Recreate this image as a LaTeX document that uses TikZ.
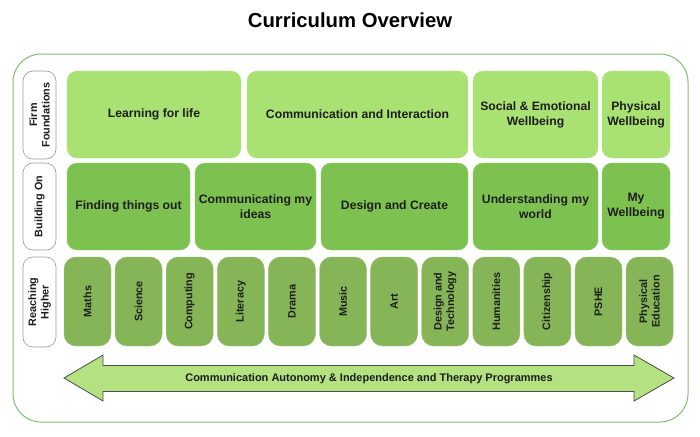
\documentclass[tikz,border=0pt]{standalone}
\usepackage{fontspec}
\setmainfont{Liberation Sans}
\definecolor{rowA}{RGB}{169,225,114}
\definecolor{rowB}{RGB}{125,194,80}
\definecolor{rowC}{RGB}{134,181,88}
\definecolor{arrowfill}{RGB}{180,226,128}
\definecolor{frameg}{RGB}{128,190,110}
\definecolor{txt}{RGB}{30,30,30}
\tikzset{
  boxbase/.style={rectangle, rounded corners=10pt, inner sep=2pt, align=center, text=txt, font=\bfseries\fontsize{12.2}{15}\selectfont},
  boxa/.style={boxbase, fill=rowA, draw=rowA!85!white, minimum height=87pt},
  boxb/.style={boxbase, fill=rowB, draw=rowB!85!white, minimum height=87pt},
  boxc/.style={boxbase, fill=rowC, draw=rowC!85!white, minimum height=47pt, minimum width=89pt, rounded corners=12pt, rotate=90, font=\bfseries\fontsize{10.8}{12.5}\selectfont},
  rowlabel/.style={rectangle, rounded corners=10pt, draw=gray!80, fill=white, line width=0.6pt, rotate=90, minimum height=33pt, align=center, text=txt, font=\bfseries\fontsize{10.8}{12.5}\selectfont, inner sep=1pt},
}
\begin{document}
\begin{tikzpicture}[x=1pt,y=-1pt]
\useasboundingbox (0,0) rectangle (700,436);
\node[font=\bfseries\fontsize{20.3}{24}\selectfont, text=black] (title) at (350,20) {Curriculum Overview};
\draw[frameg, line width=1pt, rounded corners=28pt] (13,54) rectangle (688,422);
% row labels
\node[rowlabel, minimum width=88pt] (lff) at (39.5,115) {Firm\\Foundations};
\node[rowlabel, minimum width=87pt] (lbo) at (39.5,206.5) {Building On};
\node[rowlabel, minimum width=90pt] (lrh) at (39.5,302) {Reaching\\Higher};
% row 1
\node[boxa, minimum width=174pt] (lfl) at (154,114.5) {Learning for life};
\node[boxa, minimum width=221pt] (ci) at (357.5,114.5) {Communication and Interaction};
\node[boxa, minimum width=125pt] (sew) at (535.5,114.5) {Social \& Emotional\\Wellbeing};
\node[boxa, minimum width=68pt] (pw) at (636,114.5) {Physical\\Wellbeing};
% row 2
\node[boxb, minimum width=123pt] (fto) at (128.5,206.5) {Finding things out};
\node[boxb, minimum width=121pt] (cmi) at (255.5,206.5) {Communicating my\\ideas};
\node[boxb, minimum width=147pt] (dc) at (394.5,206.5) {Design and Create};
\node[boxb, minimum width=125pt] (umw) at (535.5,206.5) {Understanding my\\world};
\node[boxb, minimum width=68pt] (mw) at (636,206.5) {My\\Wellbeing};
% row 3
\foreach \t [count=\i from 0] in {Maths,Science,Computing,Literacy,Drama,Music,Art,{Design and\\Technology},Humanities,Citizenship,PSHE,{Physical\\Education}}{
  \node[boxc] (s\i) at ({87.5+51.1*\i},301.5) {\t};
}
% arrow
\draw[draw=gray!60!black, line width=0.8pt, fill=arrowfill]
  (64,378) -- (103,355) -- (103,365.5) -- (634,365.5) -- (634,355) -- (674,378)
  -- (634,401) -- (634,391.5) -- (103,391.5) -- (103,401) -- cycle;
\node[font=\bfseries\fontsize{11}{13}\selectfont, text=txt] (arr) at (369,378.5) {Communication Autonomy \& Independence and Therapy Programmes};
\end{tikzpicture}
\end{document}
